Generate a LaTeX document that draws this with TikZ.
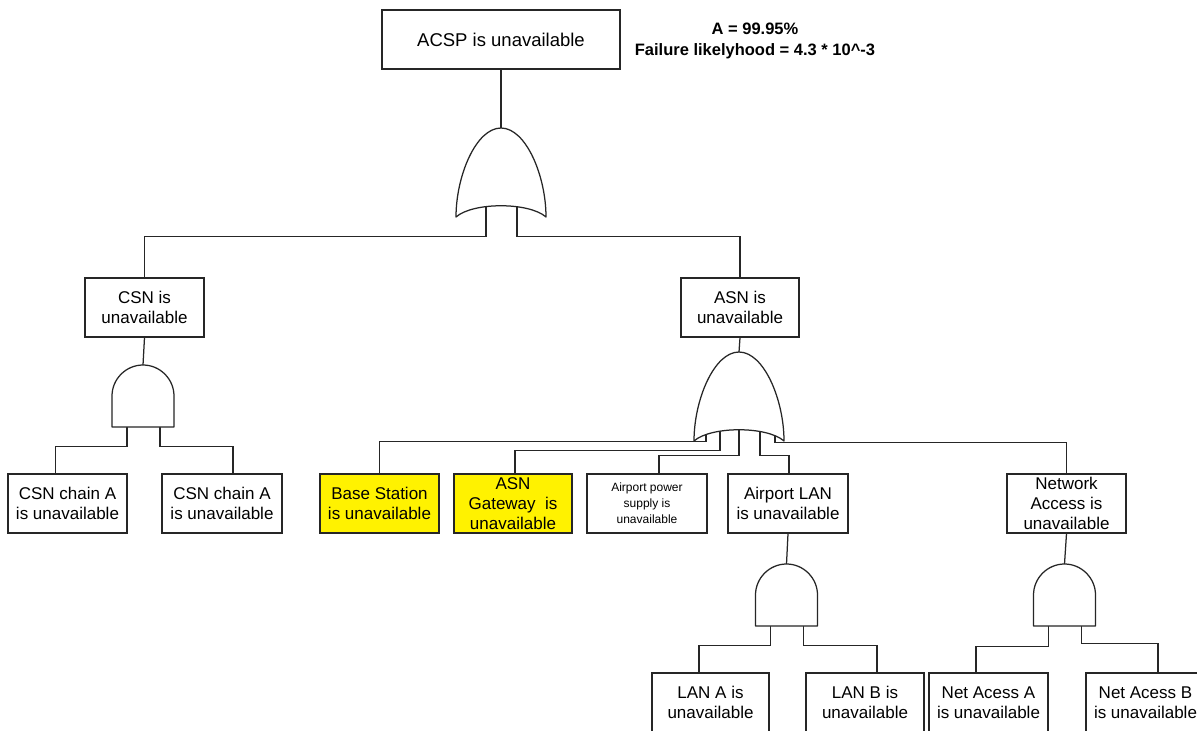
\documentclass[tikz,border=0pt]{standalone}
\usepackage{fontspec}
\setmainfont{Liberation Sans}
\usetikzlibrary{calc}

\pgfdeclarelayer{paper}
\pgfdeclarelayer{wires}
\pgfsetlayers{paper,wires,main}

\tikzset{
  ink/.style={draw=black!85, line width=1.25pt},
  event/.style={ink, fill=white, rectangle, inner sep=0pt, align=center,
    minimum height=59pt, font=\fontsize{17}{20}\selectfont},
  hot/.style={fill=yellow},
  wire/.style={ink},
  gateline/.style={ink, fill=white, line join=round},
  % OR gate, apex at the origin, inputs underneath
  orgate/.pic={
    \path[gateline] (0,0) .. controls (25,0) and (45,48) .. (45,89)
      .. controls (28,74) and (-28,74) .. (-45,89)
      .. controls (-45,48) and (-25,0) .. (0,0) -- cycle;
    \coordinate (-out) at (0,0);
  },
  % AND gate, apex at the origin
  andgate/.pic={
    \path[gateline] (-31,62) -- (-31,31) .. controls (-31,14) and (-17,0) .. (0,0)
      .. controls (17,0) and (31,14) .. (31,31) -- (31,62) -- cycle;
    \coordinate (-out) at (0,0);
  }
}

\begin{document}
\begin{tikzpicture}[x=1pt, y=-1pt]
\begin{pgfonlayer}{paper}
  \fill[white] (0,0) rectangle (1197,731);
\end{pgfonlayer}
\path[use as bounding box] (0,0) rectangle (1197,731);
\clip (0,0) rectangle (1197,731);

% events
\node[event, minimum width=238pt, font=\fontsize{18.5}{22}\selectfont] (acsp) at (501,39.5) {ACSP is unavailable};
\node[align=center, inner sep=0pt, font=\bfseries\fontsize{16.5}{21}\selectfont] (note) at (755,41)
  {A = 99.95\%\\Failure likelyhood = 4.3 * 10\textasciicircum-3};

\node[event, minimum width=119pt] (csn) at (144.5,307.5) {CSN is\\unavailable};
\node[event, minimum width=118pt] (asn) at (740,307.5) {ASN is\\unavailable};

\node[event, minimum width=119pt] (csnA1) at (67.5,503.5) {CSN chain A\\is unavailable};
\node[event, minimum width=120pt] (csnA2) at (222,503.5) {CSN chain A\\is unavailable};

\node[event, hot, minimum width=119pt] (bs) at (379.5,503.5) {Base Station\\is unavailable};
\node[event, hot, minimum width=118pt] (gw) at (513,503.5) {ASN\\Gateway~~is\\unavailable};
\node[event, minimum width=120pt, font=\fontsize{12}{16}\selectfont] (pw) at (647,503.5) {Airport power\\supply is\\unavailable};
\node[event, minimum width=120pt] (lan) at (788,503.5) {Airport LAN\\is unavailable};
\node[event, minimum width=119pt] (na) at (1066.5,503.5) {Network\\Access is\\unavailable};

\node[event, minimum width=117pt] (lanA) at (710.5,702.5) {LAN A is\\unavailable};
\node[event, minimum width=118pt] (lanB) at (865,702.5) {LAN B is\\unavailable};
\node[event, minimum width=119pt] (naA) at (988.5,702.5) {Net Acess A\\is unavailable};
\node[event, minimum width=119pt] (naB) at (1145.5,702.5) {Net Acess B\\is unavailable};

% gates
\pic (gA) at (501,128) {orgate};
\pic (gB) at (739,352) {orgate};
\pic (gC) at (143,365) {andgate};
\pic (gD) at (786.5,564) {andgate};
\pic (gE) at (1064.5,564) {andgate};

% connectors, drawn beneath the gates
\begin{pgfonlayer}{wires}
  \draw[wire] (acsp.south) -- (gA-out);
  \draw[wire] ($(gA-out)+(-15,60)$) |- ($(csn.north)+(0,-41)$) -- (csn.north);
  \draw[wire] ($(gA-out)+(16,60)$) |- ($(asn.north)+(0,-41)$) -- (asn.north);

  \draw[wire] (csn.south) -- (gC-out);
  \draw[wire] ($(gC-out)+(-16,45)$) |- ($(csnA1.north)+(-12,-27)$) -- ($(csnA1.north)+(-12,0)$);
  \draw[wire] ($(gC-out)+(17,45)$) |- ($(csnA2.north)+(11,-27)$) -- ($(csnA2.north)+(11,0)$);

  \draw[wire] (asn.south) -- (gB-out);
  \draw[wire] ($(gB-out)+(-33,60)$) |- ($(bs.north)+(0,-32)$) -- (bs.north);
  \draw[wire] ($(gB-out)+(-19,60)$) |- ($(gw.north)+(2,-23)$) -- ($(gw.north)+(2,0)$);
  \draw[wire] ($(gB-out)+(0,60)$) |- ($(pw.north)+(12,-18)$) -- ($(pw.north)+(12,0)$);
  \draw[wire] ($(gB-out)+(21,60)$) |- ($(lan.north)+(1,-18)$) -- ($(lan.north)+(1,0)$);
  \draw[wire] ($(gB-out)+(36,60)$) |- ($(na.north)+(0,-31)$) -- (na.north);

  \draw[wire] (lan.south) -- (gD-out);
  \draw[wire] ($(gD-out)+(-16,45)$) |- ($(lanA.north)+(-11.5,-27)$) -- ($(lanA.north)+(-11.5,0)$);
  \draw[wire] ($(gD-out)+(17,45)$) |- ($(lanB.north)+(12,-27)$) -- ($(lanB.north)+(12,0)$);

  \draw[wire] (na.south) -- (gE-out);
  \draw[wire] ($(gE-out)+(-16,45)$) |- ($(naA.north)+(-12.5,-26)$) -- ($(naA.north)+(-12.5,0)$);
  \draw[wire] ($(gE-out)+(17,45)$) |- ($(naB.north)+(12.5,-29)$) -- ($(naB.north)+(12.5,0)$);
\end{pgfonlayer}
\end{tikzpicture}
\end{document}
